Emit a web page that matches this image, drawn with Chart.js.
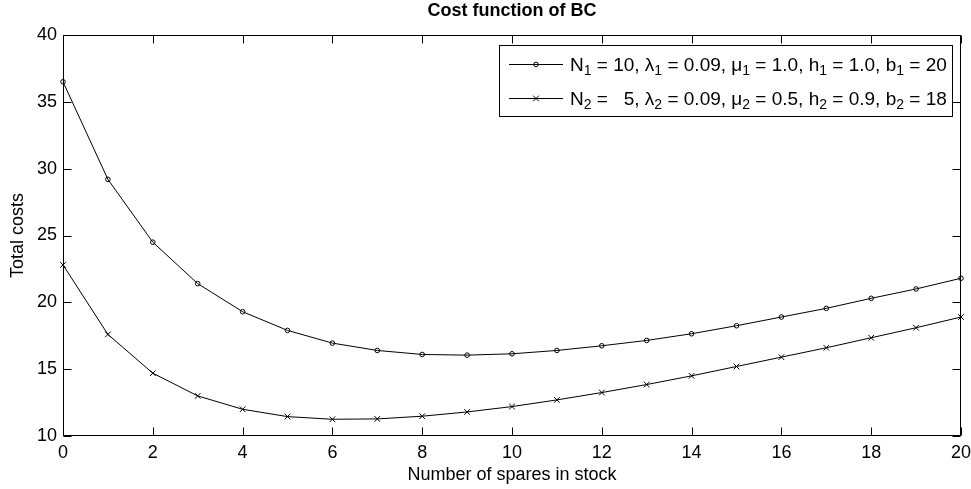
<!DOCTYPE html>
<html>
<head>
<meta charset="utf-8">
<script src="https://cdn.jsdelivr.net/npm/chart.js@4.4.1/dist/chart.umd.min.js"></script>
<style>
body { margin: 0; background: #fff; }
#wrap { width: 971px; height: 489px; }
</style>
</head>
<body>
<div id="wrap"><canvas id="costChart"></canvas></div>
<script>
const spares = [0, 1, 2, 3, 4, 5, 6, 7, 8, 9, 10, 11, 12, 13, 14, 15, 16, 17, 18, 19, 20];
const costBC1 = [36.5, 29.2, 24.5, 21.4, 19.3, 17.9, 16.95, 16.4, 16.1, 16.05, 16.15, 16.4, 16.75, 17.15, 17.65, 18.25, 18.9, 19.55, 20.3, 21.0, 21.8];
const costBC2 = [22.8, 17.6, 14.7, 13.0, 12.0, 11.45, 11.25, 11.28, 11.48, 11.8, 12.2, 12.7, 13.25, 13.85, 14.5, 15.2, 15.9, 16.6, 17.35, 18.1, 18.9];
const xTickValues = [0, 2, 4, 6, 8, 10, 12, 14, 16, 18, 20];
const yTickValues = [10, 15, 20, 25, 30, 35, 40];
// legend text as [normal, subscript] pairs
const legendText1 = [['N', '1'], [' = 10, \u03bb', '1'], [' = 0.09, \u03bc', '1'], [' = 1.0, h', '1'], [' = 1.0, b', '1'], [' = 20', '']];
const legendText2 = [['N', '2'], [' =   5, \u03bb', '2'], [' = 0.09, \u03bc', '2'], [' = 0.5, h', '2'], [' = 0.9, b', '2'], [' = 18', '']];

const FONT = "'Liberation Sans', Arial, sans-serif";
const mainFont = '19px ' + FONT;
const subFont = '14px ' + FONT;

function toPoints(ys) {
    return spares.map((x, i) => ({ x: x, y: ys[i] }));
}

function textWidth(ctx, parts) {
    let w = 0;
    for (const [main, sub] of parts) {
        ctx.font = mainFont; w += ctx.measureText(main).width;
        if (sub) { ctx.font = subFont; w += ctx.measureText(sub).width; }
    }
    return w;
}

function drawSubText(ctx, parts, x, y) {
    for (const [main, sub] of parts) {
        ctx.font = mainFont;
        ctx.fillText(main, x, y);
        x += ctx.measureText(main).width;
        if (sub) {
            ctx.font = subFont;
            ctx.fillText(sub, x, y + 4);
            x += ctx.measureText(sub).width;
        }
    }
}

// center the title over the plot box, not the whole canvas
const titleOverPlot = {
    id: 'titleOverPlot',
    afterLayout(chart) {
        const t = chart.titleBlock;
        if (t) { t.left = chart.chartArea.left; t.right = chart.chartArea.right; }
    }
};

// matlab style box with inward ticks on all four sides
const axesBox = {
    id: 'axesBox',
    afterDatasetsDraw(chart) {
        const { ctx, chartArea: a, scales } = chart;
        const L = Math.round(a.left) + 0.5, R = Math.round(a.right) - 0.5;
        const T = Math.round(a.top) + 0.5, B = Math.round(a.bottom) - 0.5;
        const len = 8;
        ctx.save();
        ctx.strokeStyle = '#000';
        ctx.lineWidth = 1;
        ctx.beginPath();
        scales.x.ticks.forEach(t => {
            const px = Math.round(scales.x.getPixelForValue(t.value)) + 0.5;
            ctx.moveTo(px, B); ctx.lineTo(px, B - len);
            ctx.moveTo(px, T); ctx.lineTo(px, T + len);
        });
        scales.y.ticks.forEach(t => {
            const py = Math.round(scales.y.getPixelForValue(t.value)) + 0.5;
            ctx.moveTo(L, py); ctx.lineTo(L + len, py);
            ctx.moveTo(R, py); ctx.lineTo(R - len, py);
        });
        ctx.stroke();
        ctx.strokeRect(L, T, R - L, B - T);
        ctx.restore();
    }
};

const boxLegend = {
    id: 'boxLegend',
    afterDraw(chart) {
        const { ctx, chartArea: a } = chart;
        const rows = [legendText1, legendText2];
        const tw = Math.max(...rows.map(r => textWidth(ctx, r)));
        const w = Math.round(70 + tw + 6);
        const h = 71;
        const right = Math.round(a.right) - 9;
        const left = right - w;
        const top = Math.round(a.top) + 10;
        ctx.save();
        ctx.fillStyle = '#fff';
        ctx.fillRect(left, top, w, h);
        ctx.strokeStyle = '#000';
        ctx.lineWidth = 1;
        ctx.strokeRect(left + 0.5, top + 0.5, w, h);
        rows.forEach((parts, i) => {
            const ds = chart.data.datasets[i];
            const cy = top + 19 + i * 34;
            ctx.beginPath();
            ctx.moveTo(left + 10, cy + 0.5);
            ctx.lineTo(left + 64, cy + 0.5);
            ctx.strokeStyle = '#000';
            ctx.lineWidth = 1;
            ctx.stroke();
            ctx.fillStyle = 'rgba(0,0,0,0)';
            Chart.helpers.drawPoint(ctx, {
                pointStyle: ds.pointStyle, radius: ds.pointRadius, borderWidth: 1, rotation: 0
            }, left + 37, cy + 0.5);
            ctx.fillStyle = '#000';
            ctx.textBaseline = 'alphabetic';
            ctx.textAlign = 'left';
            drawSubText(ctx, parts, left + 71, cy + 7);
        });
        ctx.restore();
    }
};

new Chart(document.getElementById('costChart'), {
    type: 'line',
    data: {
        datasets: [{
            label: 'BC 1',
            data: toPoints(costBC1),
            borderColor: '#000',
            borderWidth: 1,
            pointStyle: 'circle',
            pointRadius: 2.3,
            pointBorderWidth: 1,
            pointBackgroundColor: 'rgba(0,0,0,0)',
            pointBorderColor: '#000',
            tension: 0,
            clip: false
        }, {
            label: 'BC 2',
            data: toPoints(costBC2),
            borderColor: '#000',
            borderWidth: 1,
            pointStyle: 'crossRot',
            pointRadius: 4,
            pointBorderWidth: 1,
            pointBorderColor: '#000',
            tension: 0,
            clip: false
        }]
    },
    options: {
        responsive: true,
        maintainAspectRatio: false,
        animation: false,
        layout: { padding: { left: 0, right: 0, top: 0, bottom: 0 } },
        plugins: {
            legend: { display: false },
            tooltip: { enabled: false },
            title: {
                display: true,
                text: 'Cost function of BC',
                color: '#000',
                font: { family: FONT, size: 18, weight: 'bold', lineHeight: 1.2 },
                padding: { top: 0, bottom: 13.4 }
            }
        },
        scales: {
            x: {
                type: 'linear',
                min: 0,
                max: 20,
                afterBuildTicks: s => { s.ticks = xTickValues.map(v => ({ value: v })); },
                afterFit: s => { s.height = 53; s.paddingLeft = 0; s.paddingRight = 10; },
                grid: { display: false, drawTicks: false },
                border: { display: false },
                ticks: { color: '#000', padding: 6, maxRotation: 0, font: { family: FONT, size: 18 } },
                title: {
                    display: true,
                    text: 'Number of spares in stock',
                    color: '#000',
                    font: { family: FONT, size: 18 },
                    padding: { top: 0, bottom: 3 }
                }
            },
            y: {
                min: 10,
                max: 40,
                afterBuildTicks: s => { s.ticks = yTickValues.map(v => ({ value: v })); },
                afterFit: s => { s.width = 63; },
                grid: { display: false, drawTicks: false },
                border: { display: false },
                ticks: { color: '#000', padding: 6, font: { family: FONT, size: 18 } },
                title: {
                    display: true,
                    text: 'Total costs',
                    color: '#000',
                    font: { family: FONT, size: 18 },
                    padding: { top: 7, bottom: 0 }
                }
            }
        }
    },
    plugins: [titleOverPlot, axesBox, boxLegend]
});
</script>
</body>
</html>
